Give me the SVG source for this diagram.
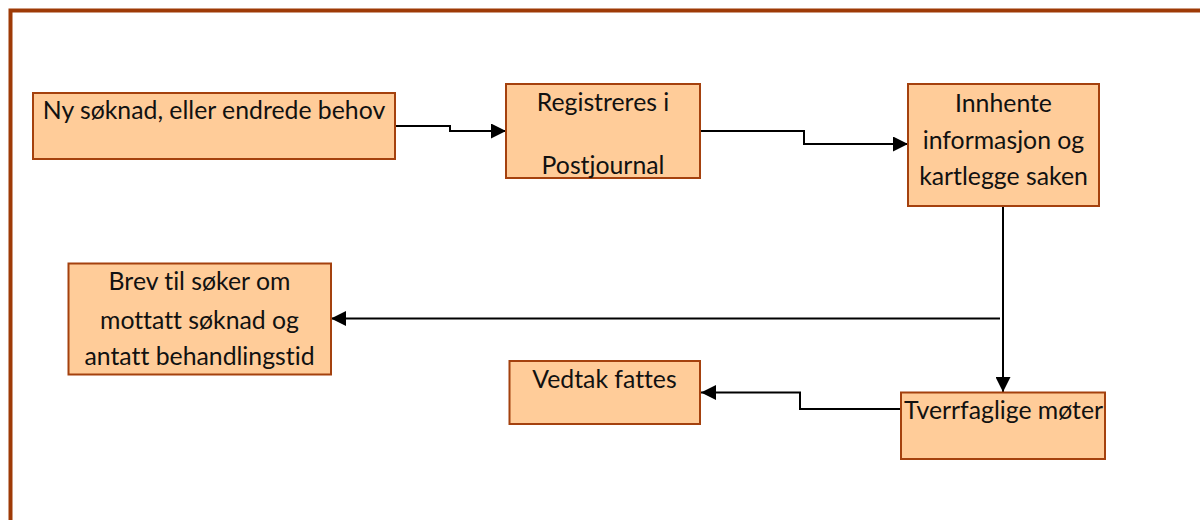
<svg xmlns="http://www.w3.org/2000/svg" width="1200" height="520" viewBox="0 0 1200 520">
<defs>
<style>
.box{fill:#FFCC99;stroke:#A4410E;stroke-width:2}
.t{font-family:Lato,"Liberation Sans",sans-serif;font-size:24.8px;fill:#111;text-anchor:middle;font-variant-ligatures:none}
.c{fill:none;stroke:#000;stroke-width:2}
</style>
<marker id="ah" viewBox="0 0 16 16" refX="16" refY="8" markerWidth="16" markerHeight="15" markerUnits="userSpaceOnUse" orient="auto">
<path d="M0,0 L16,8 L0,16 Z" fill="#000"/>
</marker>
</defs>
<rect width="1200" height="520" fill="#fff"/>
<path d="M10.5,530 V10.5 H1210" fill="none" stroke="#9E3A06" stroke-width="4"/>
<g id="connectors">
<path class="c" d="M395,126 H450 V131 H506" marker-end="url(#ah)"/>
<path class="c" d="M700,131 H804 V144 H908" marker-end="url(#ah)"/>
<path class="c" d="M1003,206 V392" marker-end="url(#ah)"/>
<path class="c" d="M1000,318.5 H331" marker-end="url(#ah)"/>
<path class="c" d="M901,409 H800 V392.5 H701" marker-end="url(#ah)"/>
</g>
<g id="n1">
<rect class="box" x="33" y="93" width="362" height="66"/>
<text class="t" x="214" y="119">Ny søknad, eller endrede behov</text>
</g>
<g id="n2">
<rect class="box" x="506" y="84" width="194" height="94"/>
<text class="t" x="603" y="111">Registreres i</text>
<text class="t" x="603" y="174">Postjournal</text>
</g>
<g id="n3">
<rect class="box" x="908" y="84" width="191" height="122"/>
<text class="t" x="1003.5" y="111.5">Innhente</text>
<text class="t" x="1003.5" y="148.5">informasjon og</text>
<text class="t" x="1003.5" y="185">kartlegge saken</text>
</g>
<g id="n4">
<rect class="box" x="68.5" y="263.5" width="262.5" height="111"/>
<text class="t" x="199.5" y="290">Brev til søker om</text>
<text class="t" x="199.5" y="329">mottatt søknad og</text>
<text class="t" x="199.5" y="365">antatt behandlingstid</text>
</g>
<g id="n5">
<rect class="box" x="509.5" y="361" width="190.5" height="63"/>
<text class="t" x="604.5" y="388">Vedtak fattes</text>
</g>
<g id="n6">
<rect class="box" x="901" y="392.5" width="204" height="66.5"/>
<text class="t" x="1003.5" y="419">Tverrfaglige møter</text>
</g>
</svg>
